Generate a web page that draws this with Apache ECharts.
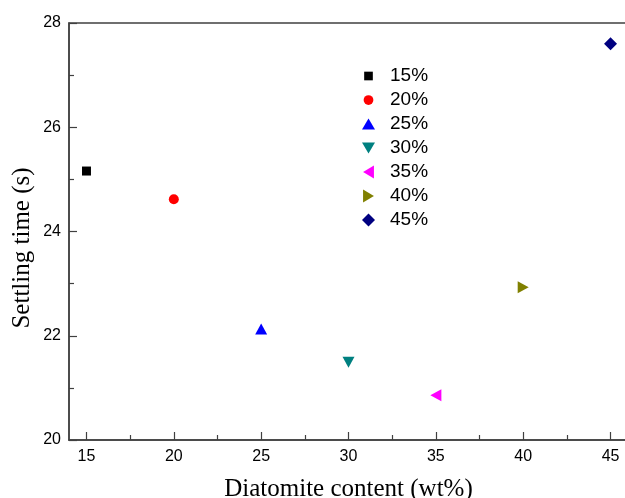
<!DOCTYPE html>
<html>
<head>
<meta charset="utf-8">
<script src="https://cdn.jsdelivr.net/npm/echarts@6/dist/echarts.min.js"></script>
<style>
  html, body { margin: 0; padding: 0; background: #fff; }
  #chart { width: 625px; height: 498px; }
</style>
</head>
<body>
<div id="chart"></div>
<script>
// data
const contents = [15, 20, 25, 30, 35, 40, 45]
const settlingTimes = [25.16, 24.62, 22.13, 21.49, 20.86, 22.93, 27.6]
const seriesNames = ['15%', '20%', '25%', '30%', '35%', '40%', '45%']
const xTicks = [15, 20, 25, 30, 35, 40, 45]
const xMinorTicks = [17.5, 22.5, 27.5, 32.5, 37.5, 42.5]

// marker look, one per series
const colors = ['#000000', '#ff0000', '#0000ff', '#008080', '#ff00ff', '#808000', '#000080']
const symbols = [
    'rect',
    'circle',
    'path://M0,0L1,2L-1,2Z',
    'path://M-1,0L1,0L0,2Z',
    'path://M0,1L2,0L2,2Z',
    'path://M0,0L2,1L0,2Z',
    'path://M0,-1L1,0L0,1L-1,0Z'
]
const sizes = [9, 10, [12, 11], [12, 11], [11, 12], [11, 12], 13]
// legend icons: same shapes, padded so they come out at the marker size
const legendIcons = [
    'path://M-6,-6M6,6M-4,-4L4,-4L4,4L-4,4Z',
    'path://M-6,-6M6,6M4.5,0A4.5,4.5,0,1,1,-4.5,0A4.5,4.5,0,1,1,4.5,0Z',
    'path://M-6,-6M6,6M0,-5L6,5L-6,5Z',
    'path://M-6,-6M6,6M-6,-5L6,-5L0,5Z',
    'path://M-6,-6M6,6M-5,0L5,-6L5,6Z',
    'path://M-6,-6M6,6M-5,-6L5,0L-5,6Z',
    'path://M-6.5,-6.5M6.5,6.5M0,-6.5L6.5,0L0,6.5L-6.5,0Z'
]

const axisColor = '#404040'

const chart = echarts.init(document.getElementById('chart'))

const series = seriesNames.map((name, i) => ({
    name: name,
    type: 'scatter',
    data: [[contents[i], settlingTimes[i]]],
    symbol: symbols[i],
    symbolSize: sizes[i],
    itemStyle: { color: colors[i], opacity: 1 },
    xAxisIndex: 0
}))

const option = {
    animation: false,
    grid: {
        left: 69,
        top: 23,
        bottom: 58,
        right: -3,
        outerBoundsMode: 'none',
        show: true,
        borderColor: axisColor,
        borderWidth: 1.5
    },
    legend: {
        orient: 'vertical',
        left: 357,
        top: 61,
        itemWidth: 13,
        itemHeight: 13,
        itemGap: 4,
        textStyle: {
            fontFamily: 'Liberation Sans, Arial',
            fontSize: 19,
            lineHeight: 20,
            color: '#000',
            padding: [0, 0, 0, 10]
        },
        data: seriesNames.map((name, i) => ({
            name: name,
            icon: legendIcons[i],
            itemStyle: { color: colors[i], opacity: 1 }
        }))
    },
    xAxis: [
        {
            type: 'value',
            min: 14,
            max: 46,
            name: 'Diatomite content (wt%)',
            nameLocation: 'middle',
            nameGap: 37,
            nameMoveOverlap: false,
            nameTextStyle: { fontFamily: 'Liberation Serif, Times New Roman', fontSize: 25, color: '#000' },
            axisLine: { lineStyle: { color: axisColor, width: 1.5 } },
            axisTick: { inside: true, length: 8, customValues: xTicks, lineStyle: { color: axisColor, width: 1.2 } },
            axisLabel: { customValues: xTicks, margin: 9, fontFamily: 'Liberation Sans, Arial', fontSize: 16, color: '#000' },
            splitLine: { show: false }
        },
        {
            type: 'value',
            position: 'bottom',
            min: 14,
            max: 46,
            axisLine: { show: false },
            axisTick: { inside: true, length: 5, customValues: xMinorTicks, lineStyle: { color: axisColor, width: 1.2 } },
            axisLabel: { show: false },
            splitLine: { show: false }
        }
    ],
    yAxis: {
        type: 'value',
        min: 20,
        max: 28,
        interval: 2,
        name: 'Settling time (s)',
        nameLocation: 'middle',
        nameGap: 34,
        nameMoveOverlap: false,
        nameTextStyle: { fontFamily: 'Liberation Serif, Times New Roman', fontSize: 25, color: '#000', padding: [0, 33, 0, 0] },
        axisLine: { show: true, lineStyle: { color: axisColor, width: 1.5 } },
        axisTick: { show: true, inside: true, length: 8, lineStyle: { color: axisColor, width: 1.2 } },
        minorTick: { show: true, splitNumber: 2, length: 5, lineStyle: { color: axisColor, width: 1.2 } },
        axisLabel: { margin: 8, fontFamily: 'Liberation Sans, Arial', fontSize: 16, color: '#000' },
        splitLine: { show: false }
    },
    series: series
}

chart.setOption(option)
</script>
</body>
</html>
